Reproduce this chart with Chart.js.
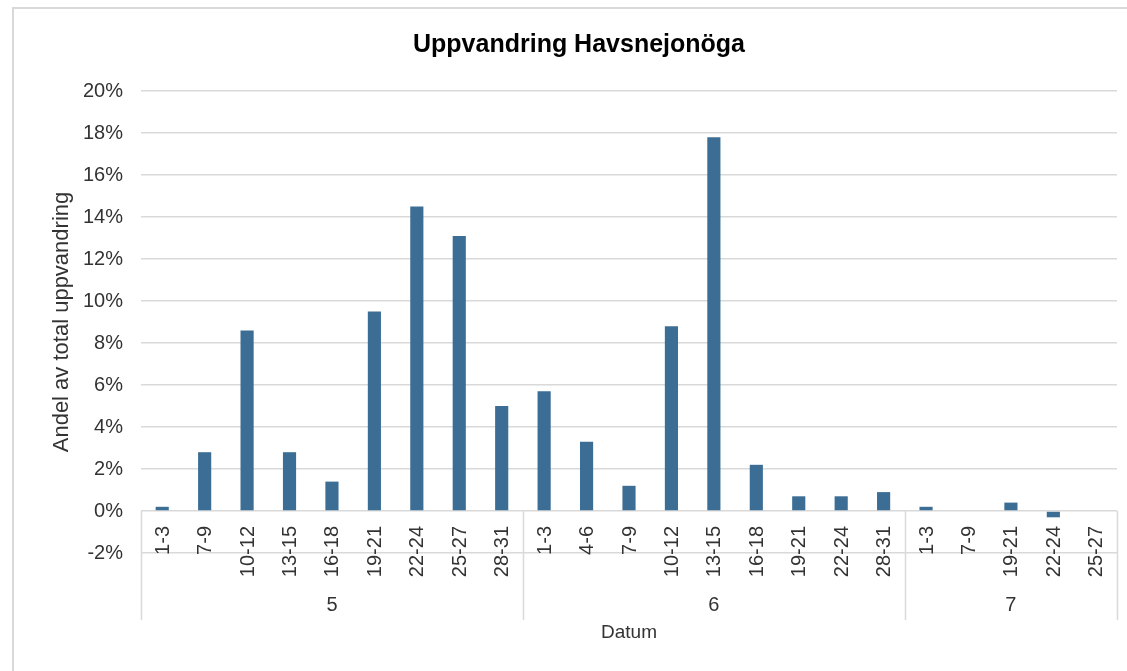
<!DOCTYPE html>
<html>
<head>
<meta charset="utf-8">
<script src="https://cdn.jsdelivr.net/npm/chart.js@4"></script>
<style>
  html, body { margin: 0; padding: 0; background: #fff; }
  #wrap { width: 1127px; height: 671px; position: relative; }
</style>
</head>
<body>
<div id="wrap"><canvas id="chart" width="1127" height="671"></canvas></div>
<script>
// Data
const chartTitle = 'Uppvandring Havsnejonöga';
const months = ['5', '6', '7'];
const periods = [
    ['1-3', '7-9', '10-12', '13-15', '16-18', '19-21', '22-24', '25-27', '28-31'],
    ['1-3', '4-6', '7-9', '10-12', '13-15', '16-18', '19-21', '22-24', '28-31'],
    ['1-3', '7-9', '19-21', '22-24', '25-27']
];
const shares = [
    0.2, 2.8, 8.6, 2.8, 1.4, 9.5, 14.5, 13.1, 5.0,
    5.7, 3.3, 1.2, 8.8, 17.8, 2.2, 0.7, 0.7, 0.9,
    0.2, 0, 0.4, -0.3, 0
];
const yTicks = [-2, 0, 2, 4, 6, 8, 10, 12, 14, 16, 18, 20];

const labels = periods.flat();
const FONT = "'Liberation Sans', Arial, sans-serif";
const GRID = '#d9d9d9';
const TEXT = '#333333';

// Draw the frame, title, category labels and the month grouping
const groupAxis = {
    id: 'groupAxis',
    afterDraw(chart) {
        const ctx = chart.ctx;
        const x = chart.scales.x;
        const y = chart.scales.y;
        const zeroY = y.getPixelForValue(0);
        const step = x.getPixelForValue(1) - x.getPixelForValue(0);

        ctx.save();
        // frame
        ctx.strokeStyle = GRID;
        ctx.lineWidth = 2;
        ctx.beginPath();
        ctx.moveTo(13, 671);
        ctx.lineTo(13, 8);
        ctx.lineTo(1127, 8);
        ctx.stroke();

        // title
        ctx.fillStyle = '#000';
        ctx.font = 'bold 25px ' + FONT;
        ctx.textAlign = 'center';
        ctx.textBaseline = 'middle';
        ctx.fillText(chartTitle, 579, 45);

        // category labels, rotated
        ctx.fillStyle = TEXT;
        ctx.font = '20px ' + FONT;
        ctx.textAlign = 'right';
        labels.forEach((lab, i) => {
            ctx.save();
            ctx.translate(x.getPixelForValue(i) + 1, zeroY + 15);
            ctx.rotate(-Math.PI / 2);
            ctx.fillText(lab, 0, 0);
            ctx.restore();
        });

        // group dividers and month labels
        ctx.strokeStyle = GRID;
        ctx.lineWidth = 1.5;
        let start = 0;
        const edges = [x.getPixelForValue(0) - step / 2];
        periods.forEach((p, g) => {
            const end = start + p.length;
            const left = x.getPixelForValue(start) - step / 2;
            const right = x.getPixelForValue(end - 1) + step / 2;
            edges.push(right);
            ctx.textAlign = 'center';
            ctx.fillText(months[g], (left + right) / 2, 605);
            start = end;
        });
        edges.forEach(ex => {
            ctx.beginPath();
            ctx.moveTo(Math.round(ex) + 0.5, zeroY);
            ctx.lineTo(Math.round(ex) + 0.5, 620);
            ctx.stroke();
        });
        ctx.restore();
    }
};

new Chart(document.getElementById('chart').getContext('2d'), {
    type: 'bar',
    data: {
        labels: labels,
        datasets: [{
            data: shares,
            backgroundColor: '#3c6e95',
            borderWidth: 0,
            barPercentage: 0.31,
            categoryPercentage: 1
        }]
    },
    options: {
        responsive: false,
        animation: false,
        layout: { padding: { left: 14, right: 10, top: 91, bottom: 0 } },
        plugins: {
            legend: { display: false },
            tooltip: { enabled: false },
            title: { display: false }
        },
        scales: {
            x: {
                grid: { display: false },
                border: { display: false },
                ticks: { display: false },
                title: {
                    display: true,
                    text: 'Datum',
                    color: TEXT,
                    font: { family: FONT, size: 19 },
                    padding: { top: 0, bottom: 27 }
                },
                afterFit(scale) { scale.height = 118; }
            },
            y: {
                min: -2,
                max: 20,
                afterBuildTicks(scale) { scale.ticks = yTicks.map(v => ({ value: v })); },
                ticks: {
                    color: TEXT,
                    font: { family: FONT, size: 20 },
                    padding: 18,
                    callback: v => v + '%'
                },
                grid: { color: GRID, lineWidth: 1.5, drawTicks: false },
                border: { display: false },
                title: {
                    display: true,
                    text: 'Andel av total uppvandring',
                    color: TEXT,
                    font: { family: FONT, size: 22 },
                    padding: { top: 35, bottom: 0 }
                },
                afterFit(scale) { scale.width = 127; }
            }
        }
    },
    plugins: [groupAxis]
});
</script>
</body>
</html>
